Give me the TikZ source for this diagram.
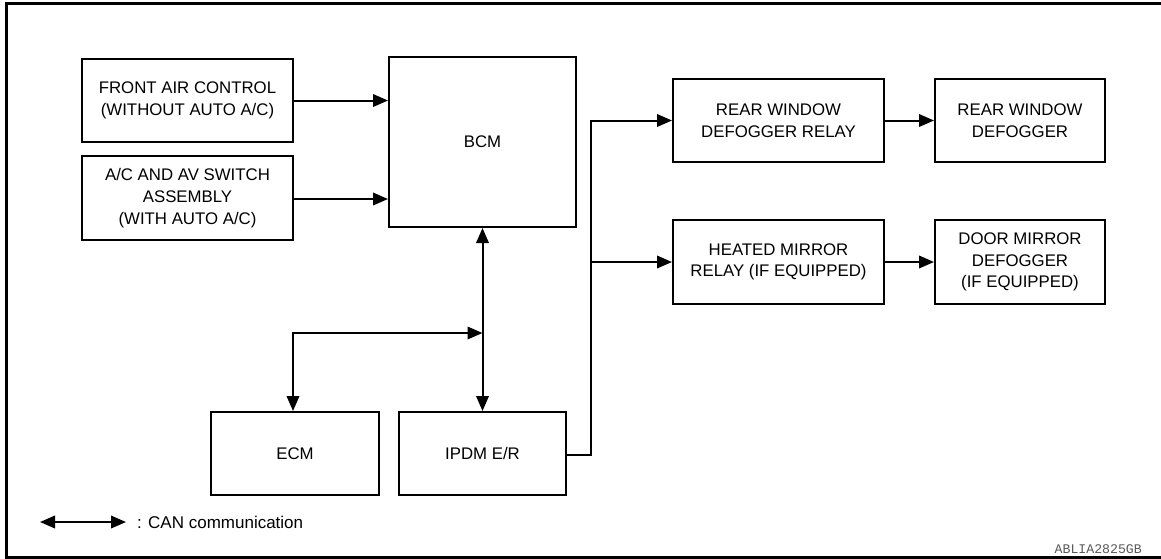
\documentclass[tikz,border=0pt]{standalone}
\usepackage{fontspec}
\setmainfont{Liberation Sans}
\setmonofont{Liberation Mono}
\usepackage{tikz}
\usetikzlibrary{arrows.meta,positioning,calc}

\begin{document}
\begin{tikzpicture}[
  x=1pt,y=1pt,
  node distance=12pt and 49pt,
  blk/.style={rectangle,draw,line width=2pt,inner sep=0pt,align=center,
    minimum width=211pt,minimum height=83pt,font=\fontsize{16.8}{21.7}\selectfont},
  arr/.style={-{Triangle[length=15pt,width=12.5pt]},line width=2pt},
  can/.style={{Triangle[length=15pt,width=12.5pt]}-{Triangle[length=15pt,width=12.5pt]},line width=2pt},
]
\useasboundingbox (0,0) rectangle (1161,-558);

% Frame
\draw[line width=3pt] (6.5,-3.5) rectangle (1175,-557);

% Body control module and inputs
\node[blk,minimum width=187pt,minimum height=170pt] (bcm) at (482.5,-142) {BCM};
\node[blk,below left=2pt and 94pt of bcm.north west,anchor=north east] (front)
  {FRONT AIR CONTROL\\(WITHOUT AUTO A/C)};
\node[blk,below=of front,minimum height=84pt] (acsw)
  {A/C AND AV SWITCH\\ASSEMBLY\\(WITH AUTO A/C)};

% Relays and defoggers
\node[blk,below right=22pt and 95pt of bcm.north east,anchor=north west] (rwrelay)
  {REAR WINDOW\\DEFOGGER RELAY};
\node[blk,right=of rwrelay,minimum width=170pt] (rwdef) {REAR WINDOW\\DEFOGGER};
\node[blk,below=56pt of rwrelay,minimum height=84pt] (hmrelay)
  {HEATED MIRROR\\RELAY (IF EQUIPPED)};
\node[blk,right=of hmrelay,minimum width=170pt,minimum height=84pt] (dmdef)
  {DOOR MIRROR\\DEFOGGER\\(IF EQUIPPED)};

% CAN units
\node[blk,below=183pt of bcm,minimum width=167pt] (ipdm) {IPDM E/R};
\node[blk,left=18pt of ipdm,minimum width=168pt] (ecm) {ECM};

\coordinate (canj) at ([yshift=-105pt]bcm.south);
\coordinate (bus) at ([xshift=-81pt]rwrelay.west);

% Arrows
\draw[arr] (front.east) -- (front.east -| bcm.west);
\draw[arr] ([yshift=-1pt]acsw.east) -- ([yshift=-1pt]acsw.east -| bcm.west);
\draw[can] (bcm.south) -- (ipdm.north);
\draw[can] (canj) -| ([xshift=-2pt]ecm.north);
\draw[arr] ([yshift=-1.5pt]ipdm.east) -| (bus) -- (rwrelay.west);
\draw[arr] (bus |- hmrelay.west) -- (hmrelay.west);
\draw[arr] (rwrelay) -- (rwdef);
\draw[arr] (hmrelay) -- (dmdef);

% Legend
\coordinate (lgA) at (40,-522);
\coordinate (lgB) at (126,-522);
\draw[can] (lgA) -- (lgB);
\node[anchor=west,inner sep=0pt,font=\fontsize{17}{20}\selectfont] (cantxt) at (137,-522)
  {: CAN communication};

\node[anchor=base east,inner sep=0pt,text=black!65,font=\fontsize{13.2}{15}\ttfamily] (figid)
  at (1142,-553) {ABLIA2825GB};
\end{tikzpicture}
\end{document}
